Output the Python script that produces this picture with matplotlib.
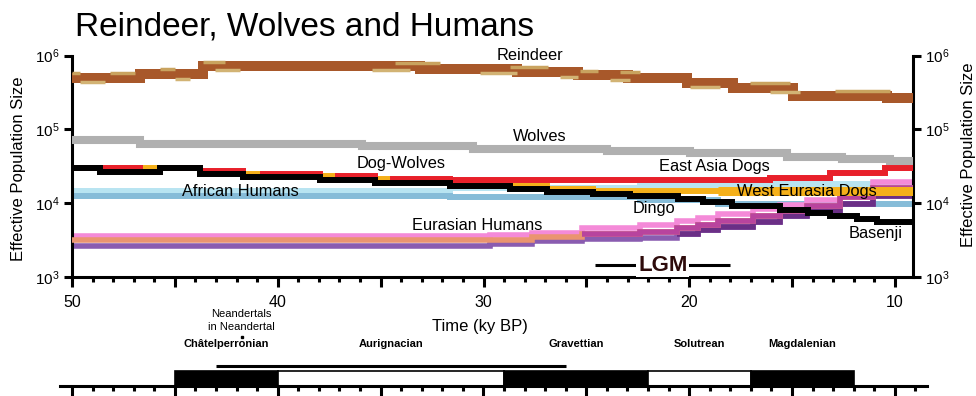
import matplotlib
matplotlib.use("Agg")
import matplotlib.pyplot as plt
from matplotlib.ticker import MultipleLocator, FuncFormatter, LogLocator, NullLocator

plt.rcParams['font.family'] = ['Liberation Sans', 'DejaVu Sans']

nan = float('nan')

# PSMC curves: step edges in ky BP and effective population size per step
reindeer_t = [50, 46.70, 43.63, 33.09, 28.37, 25.41, 22.98, 20.11, 17.87, 14.96, 10.39, 9.14]
reindeer_n = [502900, 561000, 720200, 662000, 597300, 538700, 502900, 430100, 368000, 282200, 265100]
# bootstrap pieces that stand out from the main reindeer curve (nan = no deviation)
reindeer_up_t = [50, 49.61, 48.15, 46.94, 45.72, 44.99, 43.63, 42.56, 34.30, 32.11,
                 28.71, 26.86, 25.31, 24.43, 23.37, 22.39, 17.05, 15.10, 12.92, 10.24]
reindeer_up_n = [579000, nan, 579000, nan, 646000, nan, 829000, nan, 800000, nan,
                 700000, nan, 620000, nan, 590000, nan, 424000, nan, 325000]
reindeer_lo_t = [49.61, 48.40, 44.99, 44.26, 43.05, 41.83, 35.42, 33.57, 30.17, 28.37,
                 26.28, 25.41, 23.85, 22.88, 19.96, 18.50, 16.08, 14.62]
reindeer_lo_n = [437000, nan, 487000, nan, 626000, nan, 626000, nan, 575000, nan,
                 519000, nan, 468000, nan, 374000, nan, 320000]

wolves_t = [50, 46.70, 35.91, 30.51, 24.00, 19.96, 15.25, 12.58, 10.24, 9.14]
wolves_n = [71400, 63970, 59160, 53860, 50600, 47540, 42620, 39410, 37030]

basenji_t = [50, 48.64, 45.72, 43.78, 41.69, 37.95, 35.27, 31.63, 28.71, 26.91, 24.68,
             22.88, 20.55, 19.33, 17.92, 15.59, 14.23, 13.16, 11.85, 10.88, 9.14]
basenji_n = [29760, 26680, 29760, 24670, 22460, 20450, 18620, 17220, 15440, 14060,
             13210, 12410, 11470, 10280, 9220, 8010, 7230, 6580, 6050, 5510]

east_asia_t = [50, 46.70, 45.72, 43.78, 41.69, 40.72, 37.95, 37.07, 35.27, 34.40,
               31.63, 16.08, 13.16, 10.49, 9.14]
east_asia_n = [29760, 26680, 29760, 27090, 22460, 25060, 20450, 23170, 18620, 21100,
               20450, 22110, 25850, 30220]

west_eurasia_t = [50, 43.78, 41.69, 40.72, 37.95, 37.07, 35.27, 34.40, 31.63, 28.71,
                  26.91, 24.68, 22.88, 18.60, 9.14]
west_eurasia_n = [29760, 26260, 25060, 24290, 23170, 22460, 21100, 19830, 17220, 16960,
                  15440, 14500, 14680, 14400]

african_t = [50, 31.63, 22.39, 18.60, 9.14]
african_hi = [14680, 15930, 17500, 18050]
african_lo = [12410, 12020, 10950, 9660]

eurasian_t = [50, 29.68, 27.64, 25.21, 22.39, 20.60, 19.57, 18.60, 16.90, 15.59, 14.28, 12.67, 11.07, 9.14]
eurasian_pink = [3612, 3668, 3905, 4564, 5013, 5680, 6240, 7069, 8266, 9365, 10950, 14960, 19210]
eurasian_mid = [3138, 3187, 3446, 3784, 4030, 4564, 5013, 5680, 6642, 7765, 9077, 12020, 15930]
eurasian_purple = [2642, 2769, 3041, 3237, 3339, 3784, 4289, 4710, 5506, 6642, 7765, 9663, 12400]

lgm_span = (24.58, 18.0)

# Archaeological cultures (ky BP)
culture_names = ['Châtelperronian', 'Aurignacian', 'Gravettian', 'Solutrean', 'Magdalenian']
culture_start = [45, 40, 29, 22, 17]
culture_end = [40, 29, 22, 17, 12]
culture_fill = ['black', 'white', 'black', 'white', 'black']
neandertal_span = (43, 26)
neandertal_site = 41.75


def escalon(ax, t, n, color, lw, z):
    ax.step(t, list(n) + [n[-1]], where='post', color=color, lw=lw,
            solid_capstyle='butt', solid_joinstyle='miter', zorder=z)


fig = plt.figure(figsize=(9.76, 3.96), dpi=100)
ax = fig.add_axes([72 / 976, (396 - 276.7) / 396, 840.7 / 976, 221.2 / 396])

# reindeer, with the bootstrap pieces on its edges
escalon(ax, reindeer_t, reindeer_n, '#a8582a', 7.2, 3)
escalon(ax, reindeer_up_t, reindeer_up_n, '#c9a35f', 2.5, 4)
escalon(ax, reindeer_lo_t, reindeer_lo_n, '#d2b374', 2.5, 4)

escalon(ax, wolves_t, wolves_n, '#b0b0b0', 5.8, 3)

escalon(ax, african_t, african_hi, '#b8e4f1', 4.3, 2)
escalon(ax, african_t, african_lo, '#86bcd8', 4.3, 2)

escalon(ax, eurasian_t, eurasian_pink, '#f48ad8', 4.0, 2)
escalon(ax, eurasian_t, eurasian_mid, '#ea9470', 4.0, 3)
escalon(ax, eurasian_t[3:], eurasian_mid[3:], '#b8449e', 4.0, 3)
escalon(ax, eurasian_t, eurasian_purple, '#8a5cb0', 4.0, 2)
escalon(ax, eurasian_t[5:], eurasian_purple[5:], '#6b2f86', 4.0, 2)

# dogs: West Eurasia under East Asia under Basenji
escalon(ax, west_eurasia_t, west_eurasia_n, '#f5b01a', 4.3, 4)
escalon(ax, west_eurasia_t[-2:], west_eurasia_n[-1:], '#f5b01a', 6.5, 4)
escalon(ax, east_asia_t, east_asia_n, '#e8202a', 4.3, 5)
escalon(ax, basenji_t, basenji_n, 'black', 4.3, 6)

ax.set_yscale('log')
ax.set_ylim(1e3, 1e6)
ax.set_xlim(50, 9.14)

for side in ['left', 'right', 'bottom']:
    ax.spines[side].set_linewidth(2.2)
ax.spines['top'].set_visible(False)

ax.yaxis.set_major_locator(LogLocator(base=10, numticks=10))
ax.yaxis.set_minor_locator(NullLocator())
ax.tick_params(axis='y', which='major', direction='out', length=5.8, width=2.2,
               labelsize=11, left=True, right=True, labelleft=True, labelright=True, pad=3)

ax.xaxis.set_major_locator(MultipleLocator(5))
ax.xaxis.set_minor_locator(MultipleLocator(1))
ax.xaxis.set_major_formatter(FuncFormatter(lambda v, p: f'{int(round(v))}' if round(v) % 10 == 0 else ''))
ax.tick_params(axis='x', which='major', direction='out', length=7.5, width=2.2, labelsize=11.5, pad=6)
ax.tick_params(axis='x', which='minor', direction='out', length=3.8, width=2.2)

ax.text(-0.064, 0.49, 'Effective Population Size', rotation=90, ha='center', va='center',
        fontsize=12, transform=ax.transAxes)
ax.text(1.0658, 0.55, 'Effective Population Size', rotation=90, ha='center', va='center',
        fontsize=12, transform=ax.transAxes)
ax.text(30.15, -0.227, 'Time (ky BP)', ha='center', va='center', fontsize=12,
        transform=ax.get_xaxis_transform())

# curve names
etiquetas = [
    ('Reindeer', 27.74, 1.0e6),
    ('Wolves', 27.25, 79600),
    ('Dog-Wolves', 34.0, 34780),
    ('African Humans', 41.83, 14280),
    ('Eurasian Humans', 30.32, 5013),
    ('East Asia Dogs', 18.8, 31670),
    ('West Eurasia Dogs', 14.28, 14280),
    ('Dingo', 21.71, 8530),
    ('Basenji', 10.92, 3843),
]
for texto, x, y in etiquetas:
    ax.text(x, y, texto, ha='center', va='center', fontsize=11.8, zorder=10)

# Last Glacial Maximum
ax.plot(lgm_span, [1437, 1437], color='black', lw=2.2, solid_capstyle='butt', zorder=7)
ax.text(sum(lgm_span) / 2, 1437, 'LGM', ha='center', va='center', fontsize=16,
        fontweight='bold', color='#2e0b0b', zorder=8,
        bbox=dict(facecolor='white', edgecolor='none', pad=1.2))

fig.text(75 / 976, 1 - 36 / 396, 'Reindeer, Wolves and Humans', fontsize=24, va='baseline')

# archaeological timeline
ax_t = fig.add_axes([60 / 976, 10 / 396, 867 / 976, 96 / 396])
ax_t.set_xlim(50.583, 8.44)
ax_t.set_ylim(0, 96)
for side in ['left', 'right', 'top']:
    ax_t.spines[side].set_visible(False)
ax_t.spines['bottom'].set_linewidth(2.2)
ax_t.patch.set_alpha(0)
ax_t.set_yticks([])
ax_t.xaxis.set_major_locator(MultipleLocator(5))
ax_t.xaxis.set_minor_locator(MultipleLocator(1))
ax_t.tick_params(axis='x', which='major', direction='out', length=8, width=2.2, labelbottom=False)
ax_t.tick_params(axis='x', which='minor', direction='out', length=3.8, width=2.2)

for nombre, ini, fin, color in zip(culture_names, culture_start, culture_end, culture_fill):
    ax_t.bar(x=fin, height=15, width=ini - fin, bottom=0, align='edge', color=color,
             edgecolor='black', linewidth=1.2, zorder=2)
    ax_t.text((ini + fin) / 2, 42, nombre, ha='center', va='center', fontsize=8,
              fontweight='bold')

ax_t.plot(neandertal_span, [20, 20], color='black', lw=2.2, solid_capstyle='butt')
ax_t.text(neandertal_site, 72, 'Neandertals', ha='center', va='center', fontsize=8)
ax_t.text(neandertal_site, 59, 'in Neandertal', ha='center', va='center', fontsize=8)
ax_t.plot([neandertal_site], [49], 's', color='black', ms=2)

fig.savefig('out.png', dpi=100)
